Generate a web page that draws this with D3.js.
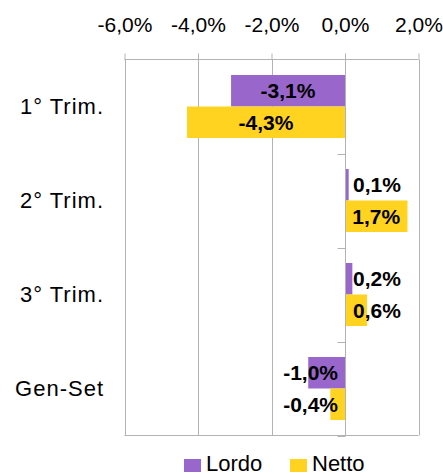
<!DOCTYPE html>
<html><head><meta charset="utf-8">
<script src="https://cdn.jsdelivr.net/npm/d3@7"></script>
<style>
html,body{margin:0;padding:0;background:#fff;}
svg{display:block;font-family:"Liberation Sans",Arial,sans-serif;}
</style></head>
<body>
<svg id="chart" width="443" height="476"></svg>
<script>
const categories = ["1° Trim.", "2° Trim.", "3° Trim.", "Gen-Set"];
const seriesNames = ["Lordo", "Netto"];
const lordo = [-3.1, 0.1, 0.2, -1.0];
const netto = [-4.3, 1.7, 0.6, -0.4];
const tickValues = [-6, -4, -2, 0, 2];
const colors = ["#9966cc", "#ffd320"];

(function () {
const svg = d3.select("#chart");
const pLeft = 124.5, pRight = 418.5, pTop = 59.5, pBottom = 435.5;
const locale = d3.formatLocale({decimal: ",", thousands: ".", grouping: [3], currency: ["", "€"], minus: "-"});
const fmt = v => locale.format(".1f")(v) + "%";

const x = d3.scaleLinear().domain([-6, 2]).range([pLeft, pRight]);
const y = d3.scaleBand().domain(categories).range([pTop, pBottom]).paddingInner(0.33).paddingOuter(0.165);
const ys = d3.scaleBand().domain(seriesNames).range([0, y.bandwidth()]);
const data = categories.map((c, i) => ({cat: c, vals: [lordo[i], netto[i]]}));

// grid
svg.append("g").selectAll("line").data(tickValues).join("line")
  .attr("x1", d => Math.round(x(d)) + 0.5).attr("x2", d => Math.round(x(d)) + 0.5)
  .attr("y1", pTop).attr("y2", pBottom).attr("stroke", "#b3b3b3").attr("stroke-width", 1);
svg.append("line").attr("x1", pLeft).attr("x2", pRight).attr("y1", pBottom).attr("y2", pBottom)
  .attr("stroke", "#b3b3b3");

// bars
const g = svg.append("g").selectAll("g").data(data).join("g")
  .attr("transform", d => `translate(0,${y(d.cat)})`);
g.selectAll("rect").data(d => d.vals.map((v, j) => ({v, s: seriesNames[j], j}))).join("rect")
  .attr("x", d => x(Math.min(0, d.v)))
  .attr("width", d => Math.abs(x(d.v) - x(0)))
  .attr("y", d => ys(d.s)).attr("height", ys.bandwidth())
  .attr("fill", d => colors[d.j]);

// category axis at zero
const x0 = Math.round(x(0)) + 0.5;
svg.append("line").attr("x1", x0).attr("x2", x0).attr("y1", pTop).attr("y2", pBottom).attr("stroke", "#b3b3b3");
svg.append("g").selectAll("line").data(categories.map((c, i) => pTop + y.step() * (i + 1))).join("line")
  .attr("x1", x0 - 8).attr("x2", x0).attr("y1", d => Math.round(d) + 0.5).attr("y2", d => Math.round(d) + 0.5)
  .attr("stroke", "#b3b3b3");

// top value axis
const ax = svg.append("g").attr("transform", `translate(0,${pTop})`)
  .call(d3.axisTop(x).tickValues(tickValues).tickFormat(fmt).tickSize(6).tickPadding(22));
ax.select(".domain").attr("stroke", "#b3b3b3").attr("d", `M${pLeft},0H${pRight}`);
ax.selectAll(".tick line").attr("stroke", "#b3b3b3");
ax.selectAll(".tick text").attr("font-size", 21).attr("fill", "#000")
  .attr("font-family", "Liberation Sans, Arial, sans-serif");

// category labels
svg.append("g").selectAll("text").data(categories).join("text")
  .attr("x", 104).attr("y", d => y(d) + y.bandwidth() / 2)
  .attr("dy", "0.36em").attr("text-anchor", "end")
  .attr("font-size", 22).attr("letter-spacing", 1).text(d => d);

// data labels
g.selectAll("text").data(d => d.vals.map((v, j) => ({v, s: seriesNames[j], j}))).join("text")
  .attr("font-size", 21).attr("font-weight", "bold").attr("fill", "#000")
  .attr("y", d => ys(d.s) + ys.bandwidth() / 2).attr("dy", "0.36em")
  .text(d => fmt(d.v))
  .each(function(d) {
    const t = d3.select(this);
    const w = this.getComputedTextLength();
    const bw = Math.abs(x(d.v) - x(0));
    if (w + 4 <= bw) {
      t.attr("x", (x(d.v) + x(0)) / 2).attr("text-anchor", "middle");
    } else if (d.v >= 0) {
      t.attr("x", x(0) + 8).attr("text-anchor", "start");
    } else {
      t.attr("x", x(0) - 7).attr("text-anchor", "end");
    }
  });

// legend
const leg = svg.append("g");
const legX = [184, 290];
seriesNames.forEach((s, i) => {
  leg.append("rect").attr("x", legX[i]).attr("y", 459).attr("width", 17).attr("height", 13).attr("fill", colors[i]);
  leg.append("text").attr("x", legX[i] + 22).attr("y", 471).attr("font-size", 22).attr("fill", "#000").text(s);
});
})();
</script>
</body></html>
